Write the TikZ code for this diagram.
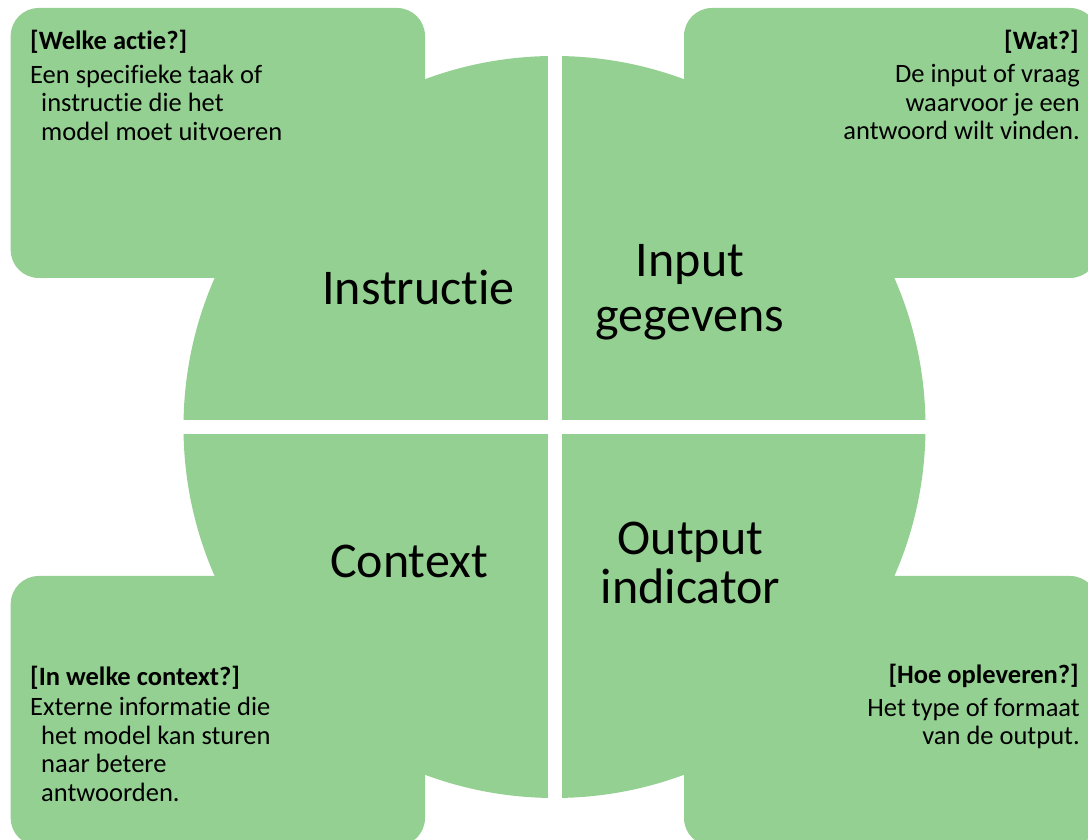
\documentclass[tikz,border=0pt]{standalone}
\usepackage{fontspec}
\setmainfont{Carlito}[Ligatures=NoCommon]
\definecolor{leaf}{RGB}{148,208,145}
\newcommand{\hangsp}{\hspace*{11pt}}

\begin{document}
\begin{tikzpicture}[x=1pt,y=1pt]
\tikzset{
    card/.style={fill=leaf, rounded corners=28pt},
    gap/.style={fill=white},
    big/.style={font=\fontsize{50}{55}\selectfont, align=center, inner sep=0pt},
    head/.style={font=\fontsize{26.5}{28.7}\selectfont\bfseries, inner sep=0pt},
    body/.style={font=\fontsize{26.5}{28.7}\selectfont, inner sep=0pt}
}
\useasboundingbox[fill=white] (0,0) rectangle (1088,840);

%% Corner cards
\fill[card] (10.7,562) rectangle (425,832);
\fill[card] (684,562) rectangle (1098,832);
\fill[card] (10.7,-6) rectangle (425,264);
\fill[card] (684,-6) rectangle (1098,264);

%% Circle and the cross cut out of it
\fill[leaf] (554.5,413) circle (371);
\fill[gap] (547.5,30) rectangle (561.5,800);
\fill[gap] (170,406) rectangle (940,420);

%% Quadrant labels (base = last line)
\node[big, anchor=base] (instr) at (418.5,535) {Instructie};
\node[big, anchor=base] (input) at (690,508.3) {Input\\gegevens};
\node[big, anchor=base] (ctx) at (409,262.7) {Context};
\node[big, anchor=base, font=\fontsize{50}{49}\selectfont] (outp) at (690.5,236) {Output\\indicator};

%% Card texts
\node[head, anchor=base west] (instrq) at (30,790) {[Welke actie?]};
\node[body, anchor=base west, align=left] (instrt) at (30,699.3)
    {Een specifieke taak of\\\hangsp instructie die het\\\hangsp model moet uitvoeren};
\node[head, anchor=base east] (inputq) at (1079,790) {[Wat?]};
\node[body, anchor=base east, align=right] (inputt) at (1080,700)
    {De input of vraag\\waarvoor je een\\antwoord wilt vinden.};
\node[head, anchor=base west] (ctxq) at (30,154) {[In welke context?]};
\node[body, anchor=base west, align=left] (ctxt) at (30,38.3)
    {Externe informatie die\\\hangsp het model kan sturen\\\hangsp naar betere\\\hangsp antwoorden.};
\node[head, anchor=base east] (outpq) at (1079,156) {[Hoe opleveren?]};
\node[body, anchor=base east, align=right] (outpt) at (1080,95)
    {Het type of formaat\\van de output.};

\end{tikzpicture}
\end{document}
